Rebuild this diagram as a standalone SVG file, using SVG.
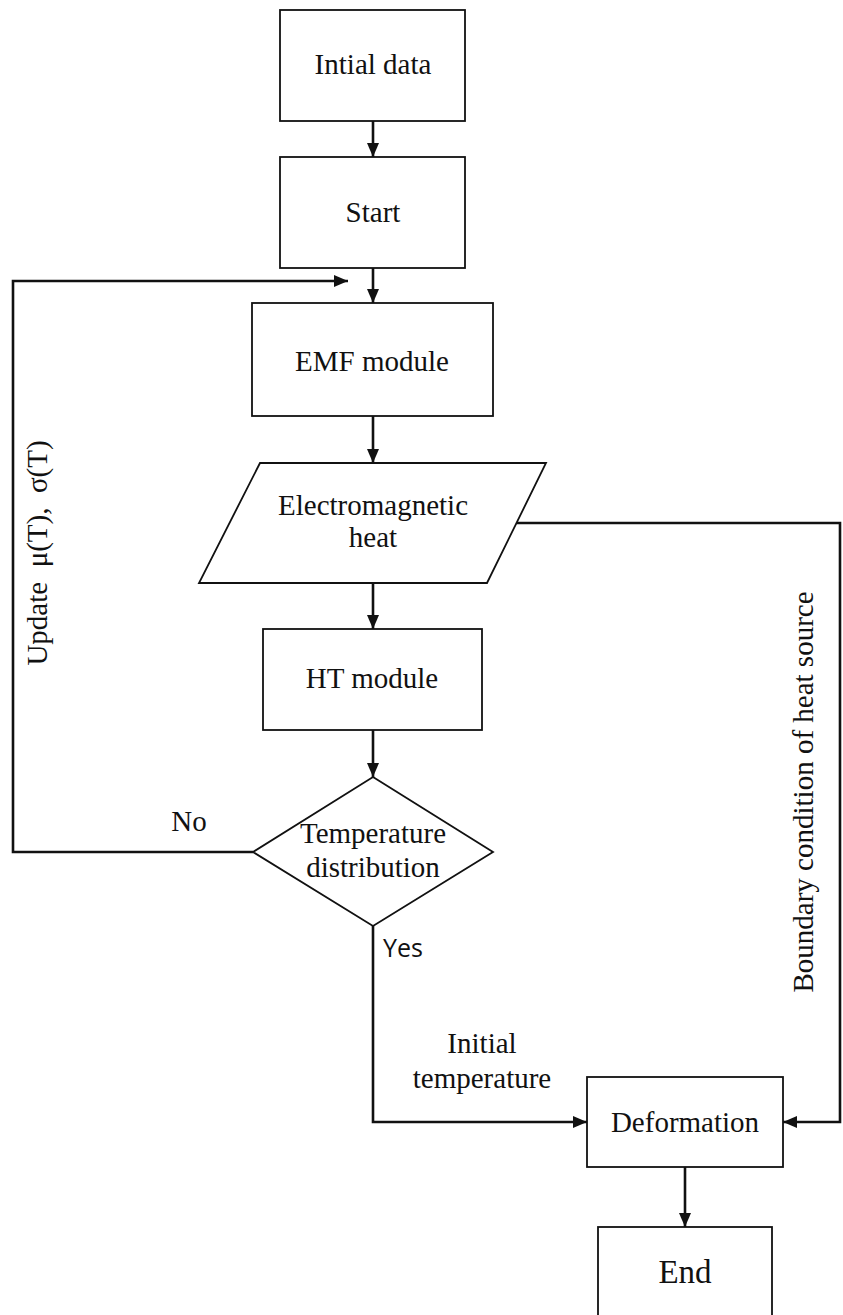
<svg xmlns="http://www.w3.org/2000/svg" width="843" height="1315" viewBox="0 0 843 1315">
<style>
.box{fill:#fff;stroke:#111;stroke-width:1.8}
.t{font-family:"Liberation Serif","Times New Roman",serif;font-size:29px;fill:#111;text-anchor:middle}
.c{fill:none;stroke:#111;stroke-width:2.6}
.s{font-family:"Open Sans","Liberation Sans",sans-serif;font-size:25px;fill:#111}
</style>
<defs>
<marker id="ah" viewBox="0 0 14 12" refX="14" refY="6" markerWidth="14" markerHeight="12" markerUnits="userSpaceOnUse" orient="auto">
<path d="M0,0 L14,6 L0,12 Z" fill="#111"/>
</marker>
</defs>
<rect width="843" height="1315" fill="#fff"/>
<g id="connectors">
<line class="c" x1="373" y1="121" x2="373" y2="157" marker-end="url(#ah)"/>
<line class="c" x1="373" y1="268" x2="373" y2="303" marker-end="url(#ah)"/>
<line class="c" x1="373" y1="416" x2="373" y2="463" marker-end="url(#ah)"/>
<line class="c" x1="373" y1="583" x2="373" y2="629" marker-end="url(#ah)"/>
<line class="c" x1="373" y1="730" x2="373" y2="777" marker-end="url(#ah)"/>
<polyline class="c" points="253,852 13,852 13,281 348,281" marker-end="url(#ah)"/>
<polyline class="c" points="373,926 373,1122 587,1122" marker-end="url(#ah)"/>
<polyline class="c" points="516,523 840,523 840,1122 783,1122" marker-end="url(#ah)"/>
<line class="c" x1="685" y1="1167" x2="685" y2="1227" marker-end="url(#ah)"/>
</g>
<g id="initial-data"><rect class="box" x="280" y="10" width="185" height="111"/><text class="t" x="373" y="74">Intial data</text></g>
<g id="start"><rect class="box" x="280" y="157" width="185" height="111"/><text class="t" x="373" y="222">Start</text></g>
<g id="emf"><rect class="box" x="252" y="303" width="241" height="113"/><text class="t" x="372" y="371">EMF module</text></g>
<g id="em-heat"><polygon class="box" points="260,463 546,463 487,583 199,583"/><text class="t" x="373" y="515">Electromagnetic</text><text class="t" x="373" y="547">heat</text></g>
<g id="ht"><rect class="box" x="263" y="629" width="219" height="101"/><text class="t" x="372" y="688">HT module</text></g>
<g id="decision"><polygon class="box" points="373,777 493,852 373,926 253,852"/><text class="t" x="373" y="843">Temperature</text><text class="t" x="373" y="877">distribution</text></g>
<g id="deformation"><rect class="box" x="587" y="1077" width="196" height="90"/><text class="t" x="685" y="1132">Deformation</text></g>
<g id="end"><rect class="box" x="598" y="1227" width="174" height="110"/><text class="t" x="685" y="1283" style="font-size:33px">End</text></g>
<g id="labels">
<text class="t" x="189" y="831">No</text>
<text class="s" x="383" y="957">Yes</text>
<text class="t" x="482" y="1053">Initial</text>
<text class="t" x="482" y="1088">temperature</text>
<text class="t" transform="translate(47,553) rotate(-90)" xml:space="preserve">Update  μ(T),  σ(T)</text>
<text class="t" transform="translate(813,792) rotate(-90)">Boundary condition of heat source</text>
</g>
</svg>
